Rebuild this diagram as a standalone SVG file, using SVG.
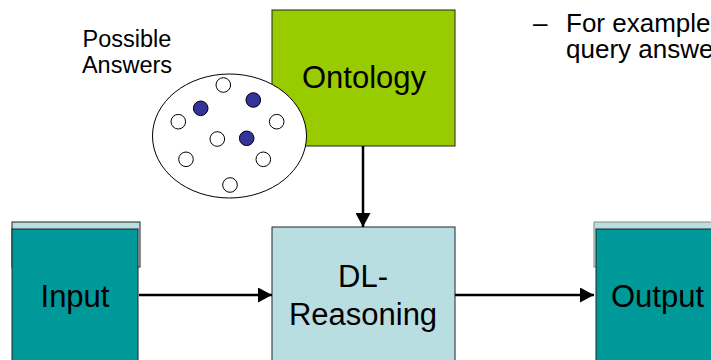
<svg xmlns="http://www.w3.org/2000/svg" width="711" height="360" viewBox="0 0 711 360">
  <style>
    text { font-family: "Liberation Sans", Arial, sans-serif; fill: #000; }
    .big { font-size: 31px; }
    .mid { font-size: 26px; }
    .small { font-size: 23.5px; }
    .box { stroke: #222; stroke-width: 1; }
    .conn { stroke: #000; stroke-width: 2.5; fill: none; }
    .open { fill: #fff; stroke: #000; stroke-width: 1; }
    .fill { fill: #333399; stroke: #000; stroke-width: 1; }
  </style>
  <defs>
    <marker id="arrow" viewBox="0 0 14 15" refX="14" refY="7.5" markerWidth="5.6" markerHeight="6" orient="auto" markerUnits="strokeWidth">
      <path d="M0,0 L14,7.5 L0,15 Z" fill="#000"/>
    </marker>
  </defs>

  <rect width="711" height="360" fill="#fff"/>

  <!-- bullet text -->
  <text class="mid" x="533" y="32">–</text>
  <text class="mid" x="566" y="32">For example</text>
  <text class="mid" x="566" y="58">query answe</text>

  <g id="ontology">
    <rect class="box" x="272" y="10" width="183" height="136" fill="#99CC00"/>
    <text class="big" x="364" y="88" text-anchor="middle">Ontology</text>
  </g>

  <g id="answers">
    <text class="small" x="127" y="47" text-anchor="middle">Possible</text>
    <text class="small" x="127" y="73" text-anchor="middle">Answers</text>
    <ellipse cx="229.5" cy="136" rx="77" ry="62" fill="#fff" stroke="#000" stroke-width="1"/>
    <circle class="open" cx="223.3" cy="85" r="7.3"/>
    <circle class="fill" cx="253.3" cy="100" r="7.3"/>
    <circle class="fill" cx="200.7" cy="108.3" r="7.3"/>
    <circle class="open" cx="178.3" cy="121.7" r="7.3"/>
    <circle class="open" cx="276.7" cy="121.7" r="7.3"/>
    <circle class="open" cx="217.3" cy="139" r="7.3"/>
    <circle class="fill" cx="246.7" cy="138.3" r="7.3"/>
    <circle class="open" cx="186" cy="159.3" r="7.3"/>
    <circle class="open" cx="263.3" cy="159.3" r="7.3"/>
    <circle class="open" cx="230" cy="185" r="7.3"/>
  </g>

  <g id="input">
    <rect class="box" x="12" y="222" width="128" height="45" fill="#B8DEE2"/>
    <rect class="box" x="12" y="229" width="126" height="140" fill="#009999"/>
    <text class="big" x="75" y="307" text-anchor="middle">Input</text>
  </g>

  <g id="reasoning">
    <rect class="box" x="272" y="227" width="183" height="140" fill="#B8DEE2"/>
    <text class="big" x="363" y="287" text-anchor="middle">DL-</text>
    <text class="big" x="363" y="325" text-anchor="middle">Reasoning</text>
  </g>

  <g id="output">
    <rect x="594" y="222" width="130" height="45" fill="#B8DEE2" stroke="#888" stroke-width="1"/>
    <rect class="box" x="596" y="229" width="130" height="140" fill="#009999"/>
    <text class="big" x="611" y="307">Output</text>
  </g>

  <g id="connectors">
    <line class="conn" x1="363" y1="146" x2="363" y2="227" marker-end="url(#arrow)"/>
    <line class="conn" x1="139" y1="295" x2="272" y2="295" marker-end="url(#arrow)"/>
    <line class="conn" x1="455" y1="295" x2="594" y2="295" marker-end="url(#arrow)"/>
  </g>
</svg>
